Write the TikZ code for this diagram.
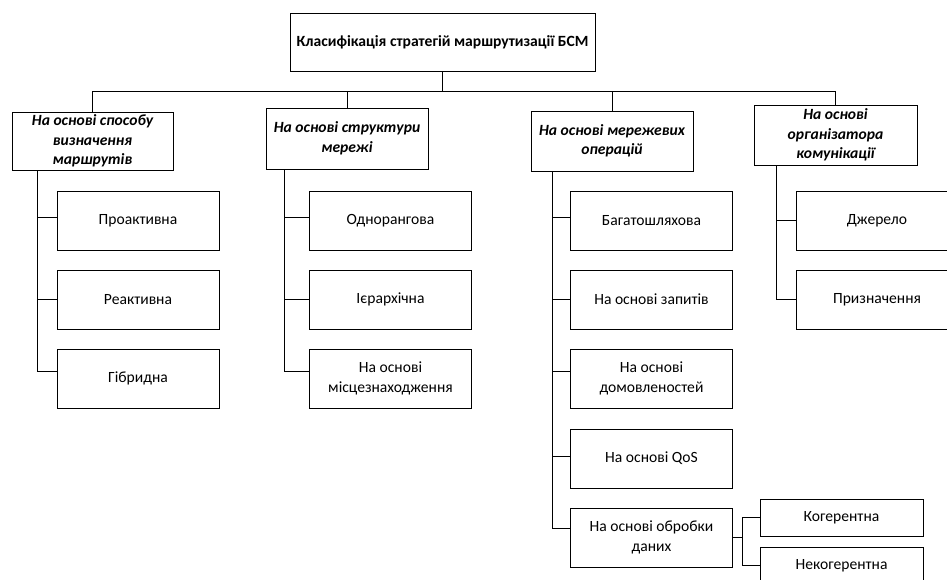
\documentclass[tikz,border=0pt]{standalone}
\usepackage{fontspec}
\setmainfont{Carlito}
\begin{document}
\begin{tikzpicture}[x=1pt,y=-1pt,
  every node/.style={font=\fontsize{15.6}{19.7}\selectfont},
  box/.style={draw,line width=0.9pt,rectangle,inner sep=2pt,align=center,minimum width=162pt,minimum height=59pt},
  catbox/.style={box,font=\fontsize{15.6}{19.5}\selectfont\bfseries\itshape,minimum height=60pt},
  link/.style={line width=1pt}]
\useasboundingbox (0,0) rectangle (947,580);
% root
\node[box,font=\fontsize{15.6}{19.5}\selectfont\bfseries,minimum width=305pt,minimum height=58pt] (root) at (442.5,42) {Класифікація стратегій маршрутизації БСМ};
% categories
\node[catbox,minimum width=161pt,minimum height=58pt] (cat1) at (92.5,141) {На основі способу\\визначення\\маршрутів};
\node[catbox,minimum height=61pt] (cat2) at (347,138.5) {На основі структури\\мережі};
\node[catbox] (cat3) at (612,141) {На основі мережевих\\операцій};
\node[catbox,minimum width=163pt] (cat4) at (835.5,135) {На основі\\організатора\\комунікації};
% column 1
\node[box] (c11) at (138,220.5) {Проактивна};
\node[box] (c12) at (138,299.5) {Реактивна};
\node[box] (c13) at (138,378.5) {Гібридна};
% column 2
\node[box] (c21) at (390.5,220.5) {Однорангова};
\node[box] (c22) at (390.5,299.5) {Ієрархічна};
\node[box] (c23) at (390.5,378.5) {На основі\\місцезнаходження};
% column 3
\node[box] (c31) at (651.5,220.5) {Багатошляхова};
\node[box] (c32) at (651.5,299.5) {На основі запитів};
\node[box] (c33) at (651.5,378.5) {На основі\\домовленостей};
\node[box] (c34) at (651.5,458.5) {На основі QoS};
\node[box] (c35) at (651.5,537.5) {На основі обробки\\даних};
% column 4
\node[box] (c41) at (877,220.5) {Джерело};
\node[box] (c42) at (877,299.5) {Призначення};
% data processing
\node[box,minimum width=163pt,minimum height=37pt] (k1) at (841.5,517.5) {Когерентна};
\node[box,minimum width=163pt,minimum height=37pt] (k2) at (841.5,565.5) {Некогерентна};
% bus
\coordinate (bus) at (0,92);
\draw[link] (root.south) -- (root.south |- bus);
\draw[link] (cat1.north) -- (cat1.north |- bus) -| (cat4.north);
\draw[link] (cat2.north) -- (cat2.north |- bus);
\draw[link] (cat3.north) -- (cat3.north |- bus);
% stems column 1
\coordinate (s1) at ([xshift=-55.5pt]cat1.south);
\draw[link] (s1) |- ([yshift=3.5pt]c11.west);
\draw[link] (s1) |- (c12.west);
\draw[link] (s1) |- ([yshift=7.5pt]c13.west);
% stems column 2
\coordinate (s2) at ([xshift=-63pt]cat2.south);
\draw[link] (s2) |- ([yshift=3.5pt]c21.west);
\draw[link] (s2) |- (c22.west);
\draw[link] (s2) |- ([yshift=7.5pt]c23.west);
% stems column 3
\coordinate (s3) at ([xshift=-60pt]cat3.south);
\draw[link] (s3) |- ([yshift=3.5pt]c31.west);
\draw[link] (s3) |- (c32.west);
\draw[link] (s3) |- ([yshift=7.5pt]c33.west);
\draw[link] (s3) |- ([yshift=2.5pt]c34.west);
\draw[link] (s3) |- ([yshift=9.5pt]c35.west);
% stems column 4
\coordinate (s4) at ([xshift=-59.5pt]cat4.south);
\draw[link] (s4) |- (c41.west);
\draw[link] (s4) |- (c42.west);
% sub-branch
\draw[link] (c35.east) -- ++(10,0) |- (k1.west);
\draw[link] (c35.east) -- ++(10,0) |- (k2.west);
\end{tikzpicture}
\end{document}
